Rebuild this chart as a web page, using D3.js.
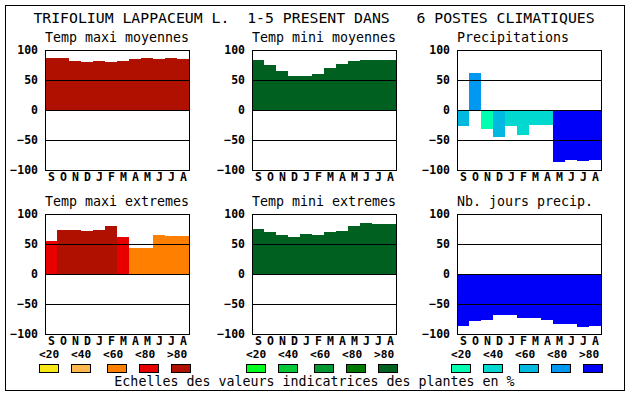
<!DOCTYPE html>
<html>
<head>
<meta charset="utf-8">
<script src="https://cdn.jsdelivr.net/npm/d3@7"></script>
<style>
  body { margin: 0; background: #fff; }
  svg text { font-family: "DejaVu Sans Mono", "Liberation Mono", monospace; fill: #000; }
</style>
</head>
<body>
<svg id="chart" width="630" height="394"></svg>
<script>
// data
const months = ["S","O","N","D","J","F","M","A","M","J","J","A"];
const yTicks = [100, 50, 0, -50, -100];
const legendLabels = ["<20", "<40", "<60", "<80", ">80"];

const redScale = ["#f8e818", "#ffb850", "#ff8000", "#e80000", "#b01000"];
const greenScale = ["#00ff20", "#00c838", "#009830", "#007800", "#006020"];
const blueScale = ["#00ffb0", "#00d8d0", "#00b8e0", "#0098f0", "#0000f8"];

const tempMaxMoy = [87, 87, 82, 80, 82, 80, 82, 85, 87, 85, 87, 85];
const tempMaxMoyCls = [4, 4, 4, 4, 4, 4, 4, 4, 4, 4, 4, 4];
const tempMinMoy = [83, 75, 65, 57, 57, 60, 70, 77, 82, 83, 83, 83];
const tempMinMoyCls = [4, 4, 4, 4, 4, 4, 4, 4, 4, 4, 4, 4];
const precip = [-27, 62, -32, -45, -27, -42, -25, -25, -87, -83, -85, -83];
const precipCls = [2, 3, 0, 2, 1, 1, 1, 1, 4, 4, 4, 4];
const tempMaxExt = [55, 73, 73, 72, 73, 80, 62, 44, 44, 65, 64, 64];
const tempMaxExtCls = [3, 4, 4, 4, 4, 4, 3, 2, 2, 2, 2, 2];
const tempMinExt = [75, 70, 65, 62, 67, 65, 70, 72, 80, 85, 84, 84];
const tempMinExtCls = [4, 4, 4, 4, 4, 4, 4, 4, 4, 4, 4, 4];
const nbJours = [-86, -78, -76, -68, -68, -73, -74, -76, -84, -84, -88, -86];
const nbJoursCls = [4, 4, 4, 4, 4, 4, 4, 4, 4, 4, 4, 4];

const titleText = "TRIFOLIUM LAPPACEUM L.  1-5 PRESENT DANS   6 POSTES CLIMATIQUES";
const footerText = "Echelles des valeurs indicatrices des plantes en %";

const svg = d3.select("#chart");
const pw = 144, ph = 120;

// outer frame
svg.append("rect")
  .attr("x", 5.5).attr("y", 5.5)
  .attr("width", 619).attr("height", 385)
  .attr("fill", "none").attr("stroke", "#000");

svg.append("text")
  .attr("x", 314).attr("y", 23)
  .attr("text-anchor", "middle")
  .attr("font-size", 14.8)
  .style("white-space", "pre")
  .text(titleText);

const panels = [
  {title: "Temp maxi moyennes", vals: tempMaxMoy, cls: tempMaxMoyCls, pal: redScale, x: 45, y: 50},
  {title: "Temp mini moyennes", vals: tempMinMoy, cls: tempMinMoyCls, pal: greenScale, x: 252, y: 50},
  {title: "Precipitations", vals: precip, cls: precipCls, pal: blueScale, x: 457, y: 50},
  {title: "Temp maxi extremes", vals: tempMaxExt, cls: tempMaxExtCls, pal: redScale, x: 45, y: 214},
  {title: "Temp mini extremes", vals: tempMinExt, cls: tempMinExtCls, pal: greenScale, x: 252, y: 214},
  {title: "Nb. jours precip.", vals: nbJours, cls: nbJoursCls, pal: blueScale, x: 457, y: 214}
];

const x = d3.scaleBand().domain(d3.range(12)).range([0, pw]).padding(0);
const y = d3.scaleLinear().domain([-100, 100]).range([ph, 0]);

panels.forEach(p => {
  const g = svg.append("g").attr("transform", `translate(${p.x},${p.y})`);

  // titles start at the left edge of the frame
  g.append("text")
    .attr("x", 0).attr("y", -8)
    .attr("font-size", 13.3)
    .text(p.title);

  g.selectAll("rect.bar")
    .data(p.vals)
    .enter()
    .append("rect")
    .attr("class", "bar")
    .attr("x", (d, i) => x(i))
    .attr("width", x.bandwidth())
    .attr("y", d => y(Math.max(d, 0)))
    .attr("height", d => Math.abs(y(d) - y(0)))
    .attr("fill", (d, i) => p.pal[p.cls[i]])
    .attr("shape-rendering", "crispEdges");

  // grid lines at 50, 0, -50
  g.selectAll("line.grid")
    .data([50, 0, -50])
    .enter()
    .append("line")
    .attr("x1", 0).attr("x2", pw)
    .attr("y1", d => y(d) + 0.5).attr("y2", d => y(d) + 0.5)
    .attr("stroke", "#000");

  g.append("rect")
    .attr("x", 0.5).attr("y", 0.5)
    .attr("width", pw).attr("height", ph)
    .attr("fill", "none").attr("stroke", "#000");

  // y axis
  const ya = g.append("g").call(d3.axisLeft(y).tickValues(yTicks).tickSize(0).tickPadding(7));
  ya.select(".domain").remove();
  ya.selectAll("text")
    .attr("font-family", null)
    .attr("font-size", 11.5)
    .attr("font-weight", "bold");

  // month labels
  g.selectAll("text.month")
    .data(months)
    .enter()
    .append("text")
    .attr("class", "month")
    .attr("x", (d, i) => x(i) + x.bandwidth() / 2 + 0.5)
    .attr("y", ph + 10.5)
    .attr("text-anchor", "middle")
    .attr("font-size", 11.5)
    .attr("font-weight", "bold")
    .text(d => d);
});

// legends under the bottom row
panels.slice(3).forEach(p => {
  const g = svg.append("g").attr("transform", `translate(${p.x},0)`);
  g.selectAll("text.leg")
    .data(legendLabels)
    .enter()
    .append("text")
    .attr("x", (d, i) => -6 + i * 32)
    .attr("y", 357.5)
    .attr("font-size", 11.2)
    .attr("font-weight", "bold")
    .text(d => d);
  g.selectAll("rect.leg")
    .data(p.pal)
    .enter()
    .append("rect")
    .attr("x", (d, i) => -5.5 + [0, 32, 68, 100, 132][i])
    .attr("y", 364.5)
    .attr("width", 19).attr("height", 8)
    .attr("fill", d => d)
    .attr("stroke", "#000");
});

svg.append("text")
  .attr("x", 314.5).attr("y", 386)
  .attr("text-anchor", "middle")
  .attr("font-size", 13.3)
  .text(footerText);
</script>
</body>
</html>
